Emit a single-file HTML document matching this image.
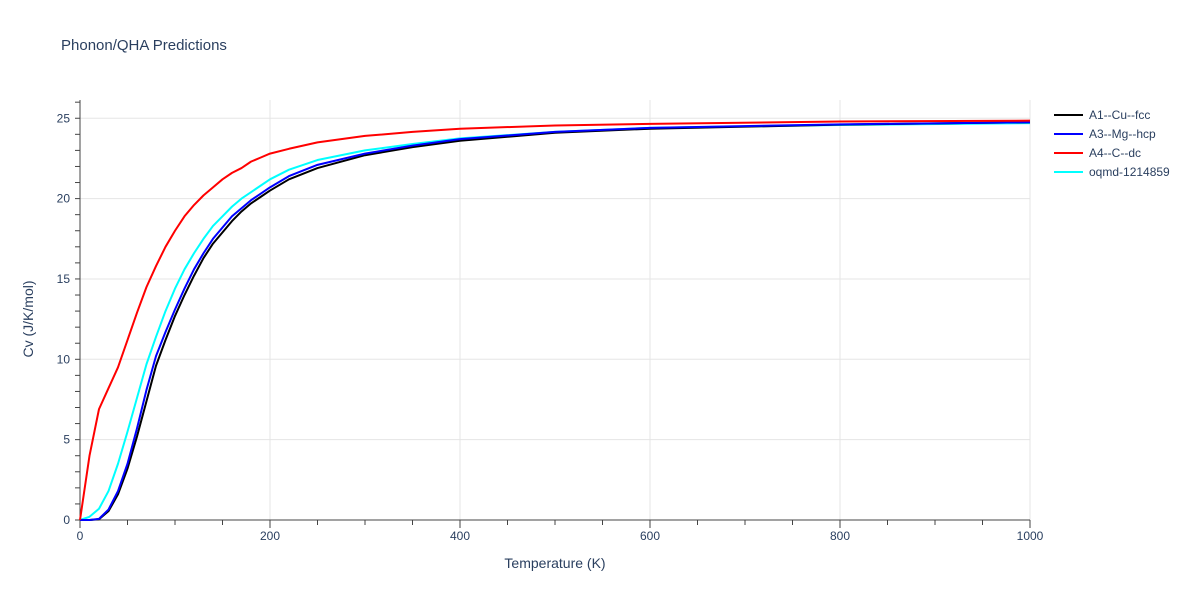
<!DOCTYPE html>
<html><head><meta charset="utf-8"><style>
body{margin:0;background:#fff;font-family:"Liberation Sans",sans-serif;}
svg text{fill:#2a3f5f;font-family:"Liberation Sans",sans-serif;}
</style></head><body>
<svg width="1200" height="600">
<text x="61" y="50" font-size="15">Phonon/QHA Predictions</text>
<g id="grid"></g><g id="axes"></g><g id="series"></g>
<text x="555" y="568" font-size="14" text-anchor="middle">Temperature (K)</text>
<text x="33" y="319" font-size="14" text-anchor="middle" transform="rotate(-90 33 319)">Cv (J/K/mol)</text>
<g id="legend"></g>
</svg>
<script>
const temps=[0,10,20,30,40,50,60,70,80,90,100,110,120,130,140,150,160,170,180,190,200,220,250,300,350,400,500,600,800,1000];
const cu=[0,0,0.05,0.55,1.6,3.2,5.2,7.4,9.6,11.2,12.7,14.0,15.2,16.3,17.2,17.9,18.6,19.2,19.7,20.1,20.5,21.2,21.9,22.7,23.2,23.6,24.1,24.35,24.6,24.75];
const mg=[0,0,0.07,0.65,1.8,3.5,5.7,8.1,10.2,11.7,13.1,14.4,15.6,16.6,17.5,18.2,18.9,19.4,19.9,20.3,20.7,21.4,22.1,22.8,23.3,23.7,24.15,24.4,24.62,24.75];
const c=[0,4.0,6.9,8.2,9.5,11.2,12.9,14.5,15.8,17.0,18.0,18.9,19.6,20.2,20.7,21.2,21.6,21.9,22.3,22.55,22.8,23.1,23.5,23.9,24.15,24.35,24.55,24.65,24.8,24.85];
const oq=[0,0.2,0.7,1.8,3.5,5.5,7.6,9.7,11.4,13.0,14.4,15.6,16.6,17.5,18.3,18.9,19.5,20.0,20.4,20.8,21.2,21.8,22.4,23.0,23.4,23.75,24.15,24.4,24.58,24.7];
const names=["A1--Cu--fcc","A3--Mg--hcp","A4--C--dc","oqmd-1214859"];
const xTicks=[0,200,400,600,800,1000];
const yTicks=[0,5,10,15,20,25];
const X=v=>80+v*0.95, Y=v=>520-v*16.07;
const NS="http://www.w3.org/2000/svg";
function mk(t,a,p){const e=document.createElementNS(NS,t);for(const k in a)e.setAttribute(k,a[k]);p.appendChild(e);return e;}
const grid=document.getElementById('grid'),axes=document.getElementById('axes'),ser=document.getElementById('series'),leg=document.getElementById('legend');
xTicks.forEach(t=>{if(t>0){const l=mk('line',{x1:X(t),x2:X(t),y1:100,y2:520,stroke:'#e5e5e5','stroke-width':1},grid);

}
const tx=mk('text',{x:X(t),y:540,'font-size':12,'text-anchor':'middle'},axes);tx.textContent=t;

});
for(let t=0;t<=1000;t+=50){mk('line',{x1:X(t),x2:X(t),y1:520,y2:t%200?525:528,stroke:'#444','stroke-width':1},axes);}
yTicks.forEach(t=>{if(t>0){const l=mk('line',{x1:80,x2:1030,y1:Y(t),y2:Y(t),stroke:'#e5e5e5','stroke-width':1},grid);

}
const tx=mk('text',{x:70,y:Y(t)+4,'font-size':12,'text-anchor':'end'},axes);tx.textContent=t;

});
for(let t=0;t<=26;t++){mk('line',{x1:75,x2:80,y1:Y(t),y2:Y(t),stroke:'#444','stroke-width':1},axes);}
mk('line',{x1:80,x2:80,y1:100,y2:520,stroke:'#444'},axes);
mk('line',{x1:80,x2:1030,y1:520,y2:520,stroke:'#444'},axes);
const series=[cu,mg,c,oq],cols=['#000','#0000ff','#ff0000','#00ffff'],ids=['series-cu','series-mg','series-c','series-oqmd'];
[3,0,1,2].forEach(i=>{const p=mk('polyline',{points:temps.map((t,j)=>X(t)+','+Y(series[i][j])).join(' '),fill:'none',stroke:cols[i],'stroke-width':2,'stroke-linejoin':'round'},ser);

});
names.forEach((n,i)=>{const y=115+i*19;const g=mk('g',{},leg);


mk('line',{x1:1054,x2:1083,y1:y,y2:y,stroke:cols[i],'stroke-width':2},g);
const t=mk('text',{x:1089,y:y+4,'font-size':12},g);t.textContent=n;});
</script>
</body></html>
